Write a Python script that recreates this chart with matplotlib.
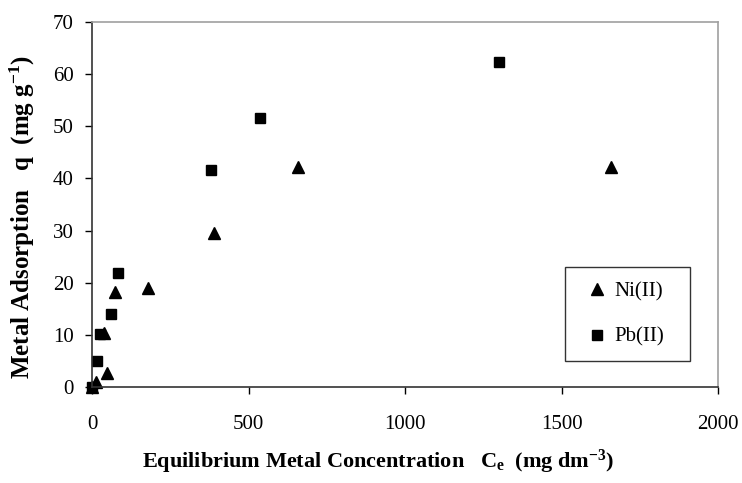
import matplotlib
matplotlib.use("Agg")
import matplotlib.pyplot as plt

plt.rcParams['font.family'] = ['Liberation Serif', 'DejaVu Serif']
plt.rcParams['mathtext.fontset'] = 'custom'
plt.rcParams['mathtext.rm'] = 'Liberation Serif:bold'
plt.rcParams['mathtext.it'] = 'Liberation Serif:bold'
plt.rcParams['mathtext.bf'] = 'Liberation Serif:bold'

# Data
ni_x = [0, 12, 47, 39, 75, 179, 389, 657, 1658]
ni_y = [0, 1.0, 2.6, 10.3, 18.3, 19.0, 29.6, 42.1, 42.2]
pb_x = [0, 15, 25, 60, 84, 381, 538, 1300]
pb_y = [0, 4.9, 10.1, 14.0, 21.8, 41.7, 51.5, 62.4]
x_ticks = [0, 500, 1000, 1500, 2000]
y_ticks = [0, 10, 20, 30, 40, 50, 60, 70]

fig = plt.figure(figsize=(7.42, 4.83), dpi=100)
ax = fig.add_axes([92/742, (483-387)/483, (718-92)/742, (387-22)/483])

ax.plot(ni_x, ni_y, linestyle='none', marker='^', markersize=9, color='black', label='Ni(II)')
ax.plot(pb_x, pb_y, linestyle='none', marker='s', markersize=7.5, color='black', label='Pb(II)')

ax.set_xlim(0, 2000)
ax.set_ylim(0, 70)
ax.set_xticks(x_ticks)
ax.set_yticks(y_ticks)
ax.tick_params(axis='both', direction='out', length=5, width=1, labelsize=15, colors='black')
ax.tick_params(axis='x', pad=15)
ax.tick_params(axis='y', pad=8)

for s in ['left', 'bottom']:
    ax.spines[s].set_color('#333333')
    ax.spines[s].set_linewidth(1.2)
for s in ['top', 'right']:
    ax.spines[s].set_color('#a0a0a0')
    ax.spines[s].set_linewidth(1.2)
for ln in ax.lines:
    ln.set_clip_on(False)

ax.set_xlabel(r'Equilibrium Metal Concentration   C$_{e}$  (mg dm$^{-3}$)',
              fontsize=16, fontweight='bold')
ax.xaxis.set_label_coords((378-92)/626, -(462-387)/365, transform=ax.transAxes)
ax.xaxis.label.set_va('center')
ax.set_ylabel(r'Metal Adsorption   q  (mg g$^{-1}$)',
              fontsize=18, fontweight='bold')
ax.yaxis.set_label_coords(-(92-22)/626, (387-217)/365, transform=ax.transAxes)
ax.yaxis.label.set_va('center')

leg = ax.legend(loc='lower left', bbox_to_anchor=((565-92)/626, (387-361)/365, (690-565)/626, (361-267)/365),
                mode='expand', fontsize=15, frameon=True, fancybox=False, handlelength=1.75,
                handletextpad=-0.05, labelspacing=1.25, borderpad=0.68, borderaxespad=0)
leg.get_frame().set_edgecolor('black')
leg.get_frame().set_linewidth(1.0)

fig.savefig('out.png', dpi=100)
